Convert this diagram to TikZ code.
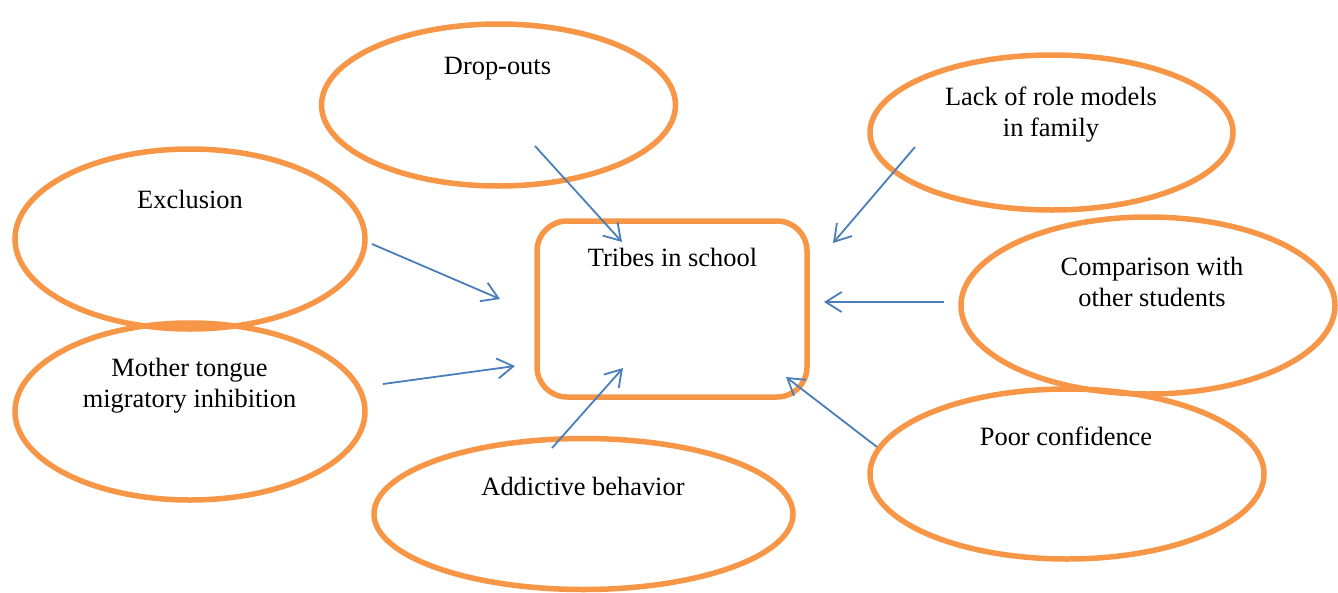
\documentclass[tikz,border=0pt]{standalone}
\usepackage{fontspec}
\setmainfont{Liberation Serif}
\usetikzlibrary{shapes.geometric,arrows.meta}
\definecolor{borange}{HTML}{F79646}
\definecolor{ablue}{HTML}{4A7EBB}
\tikzset{
  bubble/.style={draw=borange,line width=5.5pt,ellipse,inner sep=0pt},
  centerbox/.style={draw=borange,line width=5.5pt,rounded corners=30pt,inner sep=0pt},
  lbl/.style={font=\fontsize{26.4}{31}\selectfont,align=center,anchor=base,inner sep=0pt},
  link/.style={draw=ablue,line width=1.8pt,-{Straight Barb[length=16pt,width=20pt]}}
}
\begin{document}
\begin{tikzpicture}[x=1pt,y=-1pt]
\useasboundingbox (0,0) rectangle (1338,592);
% ellipses
\node[bubble,minimum width=354pt,minimum height=162pt] (drop) at (498.5,105) {};
\node[bubble,minimum width=363pt,minimum height=155pt] (lack) at (1051.5,132.5) {};
\node[bubble,minimum width=350pt,minimum height=180pt] (excl) at (190,239) {};
\node[bubble,minimum width=374pt,minimum height=177pt] (comp) at (1148,305.5) {};
\node[bubble,minimum width=350pt,minimum height=177pt] (moth) at (190,411.5) {};
\node[bubble,minimum width=419pt,minimum height=151pt] (addi) at (583.5,514) {};
\node[bubble,minimum width=394pt,minimum height=170pt] (poor) at (1067,474) {};
\node[centerbox,minimum width=270pt,minimum height=176pt] (tribe) at (672,309) {};
% labels (base = baseline of last line)
\node[lbl] (tdrop) at (497.5,74) {Drop-outs};
\node[lbl] (tlack) at (1051,136) {Lack of role models\\in family};
\node[lbl] (texcl) at (190,208) {Exclusion};
\node[lbl] (tcomp) at (1152,306) {Comparison with\\other students};
\node[lbl] (tmoth) at (189.5,407) {Mother tongue\\migratory inhibition};
\node[lbl] (taddi) at (583,495) {Addictive behavior};
\node[lbl] (tpoor) at (1066,445) {Poor confidence};
\node[lbl] (ttribe) at (672.5,266) {Tribes in school};
% connector ends
\coordinate (s1) at (535,146);  \coordinate (e1) at (622,242);
\coordinate (s2) at (915,147);  \coordinate (e2) at (833,243);
\coordinate (s3) at (372,244);  \coordinate (e3) at (500,299);
\coordinate (s4) at (944,302);  \coordinate (e4) at (824,302);
\coordinate (s5) at (383,384);  \coordinate (e5) at (515,366);
\coordinate (s6) at (552,448);  \coordinate (e6) at (623,368);
\coordinate (s7) at (877,447);  \coordinate (e7) at (786,377);
\draw[link] (s1) -- (e1);
\draw[link] (s2) -- (e2);
\draw[link] (s3) -- (e3);
\draw[link] (s4) -- (e4);
\draw[link] (s5) -- (e5);
\draw[link] (s6) -- (e6);
\draw[link] (s7) -- (e7);
\end{tikzpicture}
\end{document}
